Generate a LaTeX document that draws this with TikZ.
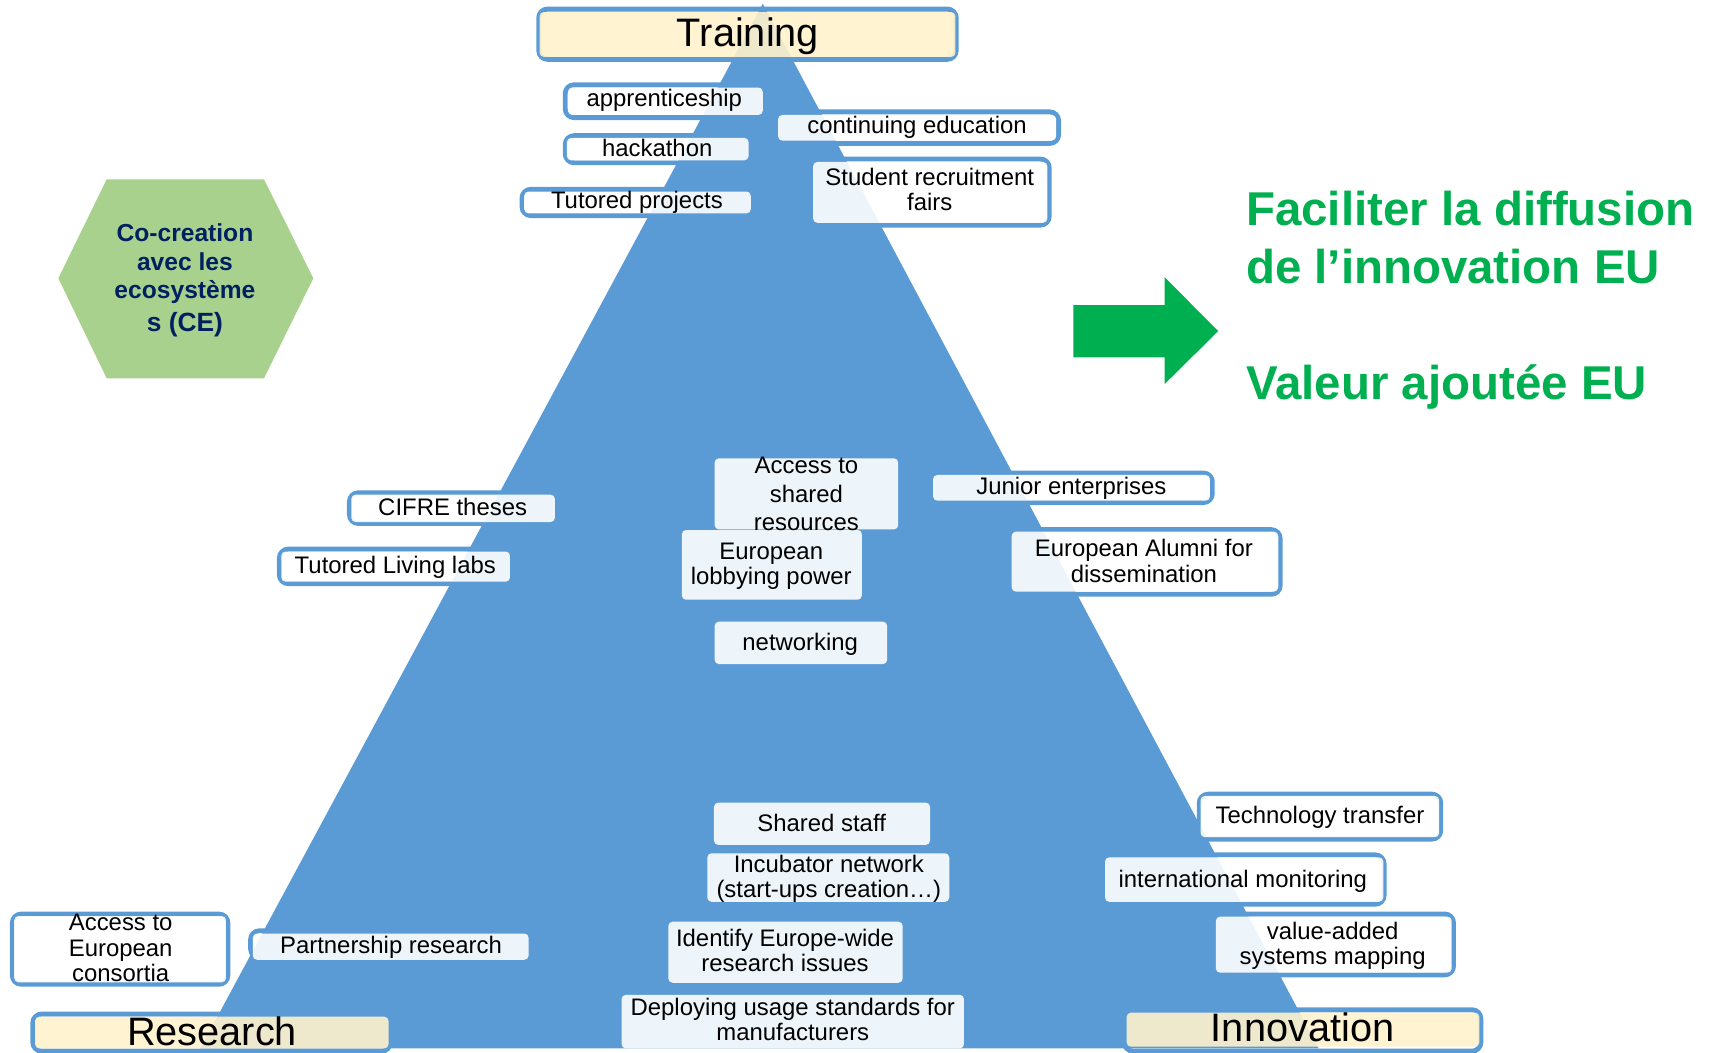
\documentclass[tikz,border=0pt]{standalone}
\usepackage{fontspec}
\setmainfont{Liberation Sans}
\definecolor{c5b9bd5}{RGB}{91,155,213}
\definecolor{cfff2cc}{RGB}{255,242,204}
\definecolor{ca9d18e}{RGB}{169,209,142}
\definecolor{c002060}{RGB}{0,32,96}
\definecolor{c00b050}{RGB}{0,176,80}
\def \pxscale {0.010944}

\begin{document}
\begin{tikzpicture}[x=\pxscale cm, y=-\pxscale cm, inner sep=0pt, outer sep=0pt,
  boxline/.style={draw=c5b9bd5, line width=1.4pt, rounded corners=2.5pt},
  boxfill/.style={fill=white, fill opacity=0.9, rounded corners=1.2pt},
  headfill/.style={fill=cfff2cc, fill opacity=0.9, rounded corners=1.2pt},
  itemtext/.style={anchor=base, align=center, font=\fontsize{6.8}{7.1}\selectfont},
  headtext/.style={anchor=base, font=\fontsize{11.3}{13}\selectfont},
  hextext/.style={anchor=base, align=center, text=c002060, font=\fontsize{7}{8}\selectfont\bfseries},
  goaltext/.style={anchor=base west, align=left, text=c00b050, font=\fontsize{13.5}{16.5}\selectfont\bfseries}]
  \useasboundingbox (0,0) rectangle (1568,962);



  \path[fill=c5b9bd5] (697,3.5) -- (183,958) -- (1205,958) -- cycle;



  \path[fill=ca9d18e] (53.3,254.3) -- (97.5,163.8) -- (241.2,163.8) -- (286.3,254.3) -- (241.2,345.7) -- (97.5,345.7) -- cycle;



  \path[fill=c00b050] (980.8,278.7) -- (1064.2,278.7) -- (1064.2,253.4) -- (1113.1,302.5) -- (1064.2,350.9) -- (1064.2,326.5) -- (980.8,326.5) -- cycle;



  \path[boxline] (492.3,8.3) rectangle (873.7,54.2);
  \path[headfill] (493,11) rectangle (873,52);



  \path[boxline] (30,926.6) rectangle (356.7,960.5);
  \path[headfill] (32,929) rectangle (355,958);



  \path[boxline] (1027.3,922.7) rectangle (1353.1,960.5);
  \path[headfill] (1029.5,925.3) rectangle (1351.7,956.4);



  \path[boxline] (516.5,77.5) rectangle (694,107.5);
  \path[boxfill] (519,80) rectangle (697,105);



  \path[boxline] (516.5,124) rectangle (681,148.7);
  \path[boxfill] (518,126) rectangle (684,146.5);



  \path[boxline] (477,173) rectangle (683,197);
  \path[boxfill] (479,175) rectangle (686,195);



  \path[boxline] (714,102.3) rectangle (967.3,131);
  \path[boxfill] (711,105) rectangle (965,128.5);



  \path[boxline] (746,145.3) rectangle (958.7,205.7);
  \path[boxfill] (743,148) rectangle (957,203.6);



  \path[boxline] (319.3,450.3) rectangle (504,478.3);
  \path[boxfill] (321,452) rectangle (507,477);



  \path[boxline] (255.3,501.8) rectangle (463,533.3);
  \path[boxfill] (257,504) rectangle (466,531.5);



  \path[boxfill] (653,418.8) rectangle (820.7,483.7);



  \path[boxfill] (623,484.3) rectangle (787.5,548);



  \path[boxfill] (653,568) rectangle (810.6,606.8);



  \path[boxline] (856,432.3) rectangle (1107.7,459.2);
  \path[boxfill] (852.6,434) rectangle (1105.6,457.5);



  \path[boxline] (928,484) rectangle (1169.7,543);
  \path[boxfill] (924.4,485.8) rectangle (1168,540.6);



  \path[boxfill] (652.4,733.4) rectangle (849.8,772);



  \path[boxfill] (646.3,779.7) rectangle (867.4,824);



  \path[boxfill] (610.7,842.2) rectangle (824.8,898);



  \path[boxfill] (568,909) rectangle (880.8,958);



  \path[boxline] (1095.8,725.7) rectangle (1316.5,766.7);
  \path[boxfill] (1097,727.3) rectangle (1315,765);



  \path[boxline] (1013,781.2) rectangle (1264.7,826.2);
  \path[boxfill] (1009.7,783.4) rectangle (1264,824);



  \path[boxline] (1114,835.2) rectangle (1328.1,890.8);
  \path[boxfill] (1111,837.6) rectangle (1326.5,888.8);



  \path[boxline] (11.3,835.3) rectangle (208.2,899.3);
  \path[boxfill] (13,837) rectangle (206.5,897.6);



  \path[boxline] (229,850.5) rectangle (480,875);
  \path[boxfill] (231,853) rectangle (483,877);



  \node[headtext] (training) at (683.5,42.7) {Training};



  \node[headtext] (research) at (193.8,954.9) {Research};



  \node[headtext] (innovation) at (1190.2,951.8) {Innovation};



  \node[itemtext] (apprenticeship) at (607,97.5) {apprenticeship};



  \node[itemtext] (hackathon) at (600.5,143.2) {hackathon};



  \node[itemtext] (tutoredprojects) at (582,190.4) {Tutored projects};



  \node[itemtext] (continuing) at (838,122.4) {continuing education};



  \node[itemtext] (recruitment) at (849.6,192.5) {Student recruitment\\fairs};



  \node[itemtext] (cifre) at (413.6,470.6) {CIFRE theses};



  \node[itemtext] (livinglabs) at (361.2,523.9) {Tutored Living labs};



  \node[itemtext, font=\fontsize{6.8}{8.1}\selectfont] (sharedres) at (736.9,484.9) {Access to\\shared\\resources};



  \node[itemtext] (lobbying) at (704.7,534.5) {European\\lobbying power};



  \node[itemtext] (networking) at (731.2,594.6) {networking};



  \node[itemtext] (junior) at (978.9,452.3) {Junior enterprises};



  \node[itemtext, font=\fontsize{6.8}{7.5}\selectfont] (alumni) at (1045.2,532.4) {European Alumni for\\dissemination};



  \node[itemtext] (sharedstaff) at (750.8,760) {Shared staff};



  \node[itemtext] (incubator) at (757.3,819.9) {Incubator network\\(start-ups creation…)};



  \node[itemtext] (identify) at (717.3,887.9) {Identify Europe-wide\\research issues};



  \node[itemtext] (deploying) at (724.4,950.3) {Deploying usage standards for\\manufacturers};



  \node[itemtext] (techtransfer) at (1206.1,752.3) {Technology transfer};



  \node[itemtext] (monitoring) at (1135.6,810.8) {international monitoring};



  \node[itemtext] (valueadded) at (1217.7,880.9) {value-added\\systems mapping};



  \node[itemtext, font=\fontsize{6.8}{7.3}\selectfont] (consortia) at (110.3,897) {Access to\\European\\consortia};



  \node[itemtext] (partnership) at (357.3,871.7) {Partnership research};



  \node[hextext] (cocreation) at (169,303) {Co-creation\\avec les\\ecosystème\\[1.5pt]{\fontsize{7.5}{8}\selectfont s (CE)}};



  \node[goaltext] (diffusion) at (1138.6,364.9) {Faciliter la diffusion\\de l’innovation EU\\[16.5pt]Valeur ajoutée EU};



\end{tikzpicture}
\end{document}
